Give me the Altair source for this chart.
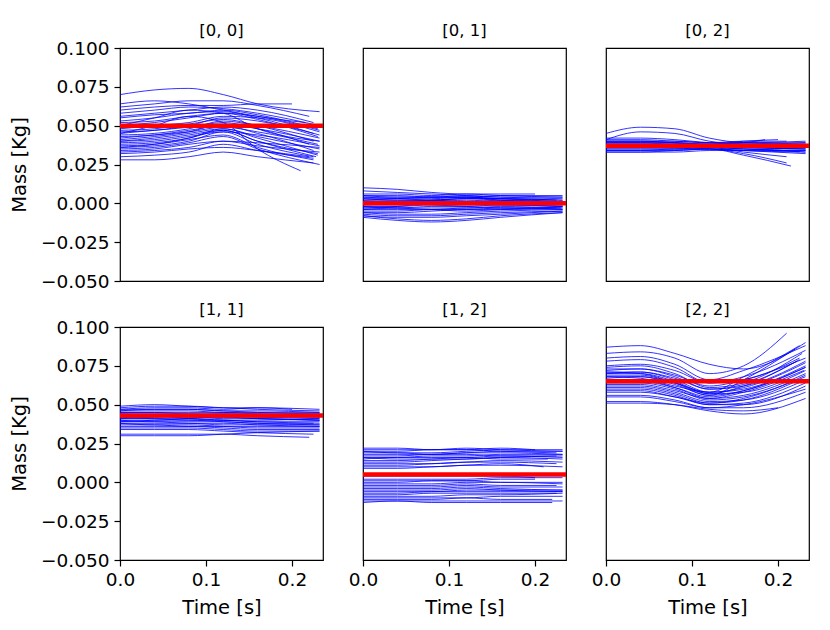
import altair as alt
import pandas as pd

T_KNOTS = [0.0, 0.04, 0.08, 0.12, 0.16]
PANEL_TITLES = ["[0, 0]", "[0, 1]", "[0, 2]", "[1, 1]", "[1, 2]", "[2, 2]"]
TRUE_VALUES = [0.050, 0.000, 0.037, 0.043, 0.005, 0.065]
X_TICKS = [0.0, 0.1, 0.2]
Y_TICKS = [-0.05, -0.025, 0.0, 0.025, 0.05, 0.075, 0.1]

P00_VALUES = [
    [0.070, 0.073, 0.074, 0.070, 0.064, 0.059],
    [0.062, 0.064, 0.066, 0.066, 0.063, 0.056],
    [0.060, 0.062, 0.063, 0.063, 0.064, 0.064],
    [0.058, 0.060, 0.062, 0.061, 0.058, 0.050],
    [0.056, 0.058, 0.060, 0.062, 0.060, 0.052],
    [0.055, 0.057, 0.058, 0.060, 0.057, 0.048],
    [0.053, 0.055, 0.058, 0.059, 0.055, 0.045],
    [0.052, 0.053, 0.056, 0.058, 0.056, 0.047],
    [0.050, 0.052, 0.055, 0.058, 0.054, 0.043],
    [0.048, 0.050, 0.052, 0.056, 0.055, 0.046],
    [0.047, 0.048, 0.051, 0.054, 0.050, 0.040],
    [0.046, 0.047, 0.050, 0.055, 0.053, 0.044],
    [0.045, 0.047, 0.049, 0.052, 0.048, 0.038],
    [0.044, 0.045, 0.048, 0.053, 0.050, 0.042],
    [0.043, 0.044, 0.047, 0.050, 0.045, 0.034],
    [0.042, 0.044, 0.046, 0.049, 0.046, 0.038],
    [0.041, 0.043, 0.046, 0.051, 0.048, 0.040],
    [0.040, 0.041, 0.044, 0.047, 0.040, 0.030],
    [0.040, 0.042, 0.045, 0.048, 0.043, 0.035],
    [0.039, 0.040, 0.043, 0.046, 0.044, 0.037],
    [0.038, 0.039, 0.042, 0.047, 0.040, 0.032],
    [0.037, 0.038, 0.041, 0.044, 0.036, 0.028],
    [0.036, 0.038, 0.042, 0.048, 0.042, 0.031],
    [0.036, 0.037, 0.040, 0.046, 0.038, 0.030],
    [0.035, 0.036, 0.039, 0.043, 0.035, 0.025],
    [0.034, 0.035, 0.038, 0.040, 0.039, 0.036],
    [0.033, 0.034, 0.036, 0.040, 0.037, 0.033],
    [0.032, 0.033, 0.035, 0.036, 0.034, 0.030],
    [0.030, 0.031, 0.033, 0.038, 0.034, 0.029],
    [0.028, 0.028, 0.030, 0.033, 0.030, 0.026],
    [0.045, 0.050, 0.056, 0.052, 0.035, 0.021],
    [0.050, 0.055, 0.060, 0.058, 0.048, 0.040],
    [0.064, 0.066, 0.064, 0.060, 0.056, 0.052],
]
P00_END = [0.232, 0.22, 0.2, 0.232, 0.225, 0.23, 0.225, 0.232, 0.23, 0.232,
           0.225, 0.232, 0.22, 0.232, 0.225, 0.23, 0.232, 0.228, 0.232, 0.232,
           0.23, 0.225, 0.23, 0.225, 0.232, 0.232, 0.232, 0.22, 0.225, 0.225,
           0.21, 0.232, 0.215]

P01_VALUES = [
    [0.010, 0.009, 0.007, 0.006, 0.006, 0.006],
    [0.006, 0.006, 0.005, 0.006, 0.005, 0.004],
    [0.005, 0.005, 0.004, 0.005, 0.004, 0.003],
    [0.004, 0.004, 0.004, 0.004, 0.003, 0.002],
    [0.003, 0.003, 0.003, 0.004, 0.003, 0.001],
    [0.003, 0.002, 0.002, 0.003, 0.003, 0.002],
    [0.002, 0.002, 0.002, 0.001, 0.002, 0.001],
    [0.001, 0.001, 0.001, 0.002, 0.001, 0.000],
    [0.000, 0.000, 0.001, 0.000, 0.000, -0.001],
    [-0.001, -0.001, 0.000, 0.000, -0.001, -0.001],
    [-0.002, -0.002, -0.001, -0.001, -0.001, -0.002],
    [-0.003, -0.003, -0.002, -0.002, -0.001, -0.002],
    [-0.004, -0.003, -0.003, -0.003, -0.002, -0.003],
    [-0.004, -0.004, -0.004, -0.003, -0.003, -0.002],
    [-0.005, -0.005, -0.004, -0.004, -0.003, -0.003],
    [-0.006, -0.006, -0.005, -0.004, -0.004, -0.003],
    [-0.006, -0.007, -0.007, -0.006, -0.005, -0.004],
    [-0.007, -0.008, -0.008, -0.007, -0.006, -0.005],
    [-0.008, -0.009, -0.009, -0.008, -0.007, -0.005],
    [-0.008, -0.010, -0.011, -0.010, -0.008, -0.006],
    [-0.009, -0.011, -0.012, -0.011, -0.009, -0.006],
    [0.002, 0.003, 0.004, 0.004, 0.002, 0.000],
    [0.000, 0.001, 0.002, 0.003, 0.003, 0.002],
    [-0.001, 0.000, 0.002, 0.003, 0.002, 0.001],
    [-0.003, -0.002, 0.000, 0.001, 0.001, 0.000],
    [0.004, 0.003, 0.002, 0.001, 0.000, -0.001],
    [0.001, 0.000, -0.001, -0.002, -0.003, -0.004],
    [-0.002, -0.003, -0.004, -0.005, -0.004, -0.003],
    [0.005, 0.004, 0.004, 0.004, 0.005, 0.005],
    [0.008, 0.007, 0.006, 0.005, 0.004, 0.004],
]
P01_END = [0.2, 0.232, 0.232, 0.225, 0.232, 0.232, 0.23, 0.232, 0.232, 0.225,
           0.232, 0.232, 0.23, 0.232, 0.232, 0.225, 0.232, 0.232, 0.232, 0.232,
           0.232, 0.232, 0.232, 0.22, 0.232, 0.232, 0.232, 0.232, 0.232, 0.232]

P02_VALUES = [
    [0.045, 0.049, 0.048, 0.042, 0.039, 0.038],
    [0.041, 0.046, 0.045, 0.040, 0.038, 0.037],
    [0.042, 0.042, 0.041, 0.039, 0.038, 0.039],
    [0.041, 0.041, 0.040, 0.039, 0.040, 0.040],
    [0.040, 0.040, 0.040, 0.039, 0.039, 0.040],
    [0.040, 0.040, 0.039, 0.038, 0.039, 0.039],
    [0.039, 0.039, 0.039, 0.038, 0.038, 0.038],
    [0.039, 0.039, 0.038, 0.038, 0.037, 0.038],
    [0.038, 0.038, 0.038, 0.037, 0.037, 0.036],
    [0.038, 0.038, 0.037, 0.037, 0.036, 0.035],
    [0.037, 0.037, 0.037, 0.037, 0.036, 0.035],
    [0.037, 0.037, 0.036, 0.036, 0.035, 0.034],
    [0.036, 0.036, 0.036, 0.036, 0.035, 0.033],
    [0.036, 0.036, 0.036, 0.035, 0.034, 0.033],
    [0.035, 0.035, 0.035, 0.035, 0.034, 0.032],
    [0.035, 0.035, 0.035, 0.036, 0.033, 0.030],
    [0.034, 0.034, 0.034, 0.035, 0.032, 0.026],
    [0.034, 0.034, 0.035, 0.035, 0.031, 0.024],
    [0.033, 0.033, 0.034, 0.035, 0.035, 0.033],
    [0.033, 0.033, 0.033, 0.034, 0.034, 0.034],
    [0.039, 0.039, 0.039, 0.038, 0.040, 0.041],
    [0.038, 0.038, 0.038, 0.038, 0.039, 0.041],
    [0.037, 0.037, 0.038, 0.037, 0.036, 0.035],
    [0.036, 0.036, 0.036, 0.037, 0.037, 0.036],
    [0.040, 0.040, 0.039, 0.037, 0.036, 0.036],
]
P02_END = [0.232, 0.232, 0.232, 0.21, 0.232, 0.232, 0.232, 0.232, 0.232, 0.232,
           0.232, 0.232, 0.232, 0.225, 0.232, 0.21, 0.21, 0.215, 0.232, 0.232,
           0.2, 0.185, 0.232, 0.232, 0.232]

P11_VALUES = [
    [0.049, 0.050, 0.049, 0.048, 0.048, 0.047],
    [0.048, 0.049, 0.049, 0.048, 0.047, 0.046],
    [0.047, 0.048, 0.048, 0.047, 0.048, 0.047],
    [0.047, 0.047, 0.047, 0.046, 0.046, 0.045],
    [0.046, 0.047, 0.047, 0.046, 0.045, 0.044],
    [0.046, 0.046, 0.046, 0.045, 0.045, 0.045],
    [0.045, 0.045, 0.045, 0.045, 0.044, 0.043],
    [0.045, 0.045, 0.044, 0.044, 0.044, 0.044],
    [0.044, 0.044, 0.044, 0.043, 0.042, 0.041],
    [0.043, 0.043, 0.043, 0.043, 0.042, 0.042],
    [0.043, 0.043, 0.042, 0.042, 0.041, 0.040],
    [0.042, 0.042, 0.042, 0.041, 0.041, 0.040],
    [0.042, 0.041, 0.041, 0.040, 0.039, 0.038],
    [0.041, 0.041, 0.040, 0.040, 0.039, 0.039],
    [0.040, 0.040, 0.040, 0.039, 0.038, 0.037],
    [0.040, 0.039, 0.039, 0.039, 0.038, 0.038],
    [0.039, 0.039, 0.038, 0.038, 0.037, 0.036],
    [0.038, 0.038, 0.038, 0.037, 0.037, 0.037],
    [0.038, 0.037, 0.037, 0.036, 0.035, 0.035],
    [0.037, 0.037, 0.036, 0.036, 0.036, 0.036],
    [0.036, 0.036, 0.036, 0.035, 0.034, 0.034],
    [0.035, 0.035, 0.035, 0.034, 0.033, 0.033],
    [0.034, 0.034, 0.034, 0.033, 0.032, 0.031],
    [0.031, 0.031, 0.031, 0.031, 0.030, 0.029],
    [0.030, 0.030, 0.030, 0.031, 0.032, 0.033],
    [0.044, 0.043, 0.041, 0.040, 0.040, 0.041],
    [0.041, 0.042, 0.043, 0.044, 0.043, 0.042],
    [0.039, 0.040, 0.041, 0.042, 0.041, 0.040],
]
P11_END = [0.232, 0.232, 0.2, 0.232, 0.232, 0.232, 0.232, 0.232, 0.232, 0.232,
           0.232, 0.232, 0.232, 0.232, 0.232, 0.225, 0.232, 0.232, 0.232, 0.232,
           0.232, 0.232, 0.225, 0.22, 0.232, 0.232, 0.232, 0.232]

P12_VALUES = [
    [0.022, 0.022, 0.021, 0.021, 0.022, 0.021],
    [0.021, 0.021, 0.021, 0.022, 0.021, 0.020],
    [0.020, 0.020, 0.021, 0.021, 0.020, 0.019],
    [0.020, 0.019, 0.019, 0.020, 0.021, 0.021],
    [0.019, 0.019, 0.018, 0.019, 0.020, 0.020],
    [0.018, 0.018, 0.018, 0.019, 0.019, 0.018],
    [0.017, 0.017, 0.018, 0.018, 0.017, 0.017],
    [0.016, 0.016, 0.017, 0.017, 0.018, 0.018],
    [0.015, 0.016, 0.016, 0.016, 0.017, 0.016],
    [0.014, 0.014, 0.015, 0.016, 0.015, 0.015],
    [0.013, 0.013, 0.014, 0.015, 0.016, 0.015],
    [0.012, 0.012, 0.012, 0.013, 0.014, 0.013],
    [0.011, 0.011, 0.012, 0.013, 0.013, 0.012],
    [0.010, 0.010, 0.010, 0.011, 0.011, 0.010],
    [0.009, 0.009, 0.010, 0.011, 0.012, 0.010],
    [0.016, 0.015, 0.015, 0.015, 0.016, 0.017],
    [0.002, 0.002, 0.002, 0.002, 0.003, 0.003],
    [0.001, 0.001, 0.001, 0.001, 0.002, 0.002],
    [0.000, 0.000, 0.001, 0.001, 0.000, 0.000],
    [-0.001, -0.001, -0.001, 0.000, 0.000, -0.001],
    [-0.002, -0.002, -0.002, -0.001, -0.002, -0.002],
    [-0.003, -0.003, -0.003, -0.002, -0.003, -0.003],
    [-0.004, -0.004, -0.004, -0.003, -0.004, -0.005],
    [-0.005, -0.005, -0.005, -0.004, -0.005, -0.006],
    [-0.006, -0.006, -0.006, -0.005, -0.005, -0.005],
    [-0.007, -0.007, -0.006, -0.006, -0.006, -0.006],
    [-0.008, -0.008, -0.007, -0.007, -0.007, -0.007],
    [-0.009, -0.009, -0.009, -0.008, -0.008, -0.007],
    [-0.010, -0.010, -0.010, -0.010, -0.009, -0.009],
    [-0.011, -0.011, -0.011, -0.010, -0.011, -0.011],
    [-0.012, -0.012, -0.013, -0.013, -0.013, -0.013],
    [-0.013, -0.012, -0.012, -0.012, -0.012, -0.012],
    [0.004, 0.004, 0.004, 0.004, 0.004, 0.003],
]
P12_END = [0.2, 0.232, 0.225, 0.232, 0.232, 0.232, 0.225, 0.232, 0.232, 0.215,
           0.232, 0.232, 0.225, 0.232, 0.21, 0.232, 0.232, 0.2, 0.232, 0.232,
           0.225, 0.232, 0.232, 0.232, 0.232, 0.232, 0.225, 0.232, 0.232, 0.22,
           0.22, 0.232, 0.2]

P22_VALUES = [
    [0.087, 0.088, 0.083, 0.076, 0.073, 0.090],
    [0.083, 0.084, 0.080, 0.070, 0.075, 0.096],
    [0.080, 0.081, 0.076, 0.066, 0.072, 0.088],
    [0.078, 0.079, 0.074, 0.064, 0.066, 0.080],
    [0.075, 0.076, 0.072, 0.064, 0.068, 0.085],
    [0.074, 0.075, 0.070, 0.061, 0.064, 0.083],
    [0.073, 0.073, 0.068, 0.060, 0.062, 0.078],
    [0.072, 0.073, 0.069, 0.062, 0.066, 0.080],
    [0.071, 0.071, 0.066, 0.058, 0.060, 0.075],
    [0.070, 0.071, 0.067, 0.060, 0.063, 0.079],
    [0.070, 0.070, 0.065, 0.057, 0.058, 0.072],
    [0.069, 0.069, 0.064, 0.058, 0.061, 0.077],
    [0.068, 0.068, 0.063, 0.056, 0.059, 0.074],
    [0.067, 0.068, 0.064, 0.057, 0.062, 0.078],
    [0.066, 0.066, 0.061, 0.054, 0.056, 0.070],
    [0.065, 0.065, 0.061, 0.055, 0.059, 0.074],
    [0.064, 0.064, 0.060, 0.053, 0.055, 0.068],
    [0.063, 0.063, 0.059, 0.054, 0.058, 0.072],
    [0.062, 0.062, 0.058, 0.052, 0.053, 0.066],
    [0.061, 0.061, 0.057, 0.051, 0.054, 0.069],
    [0.060, 0.060, 0.056, 0.050, 0.051, 0.064],
    [0.059, 0.059, 0.055, 0.051, 0.053, 0.066],
    [0.058, 0.058, 0.055, 0.050, 0.050, 0.062],
    [0.056, 0.056, 0.053, 0.048, 0.048, 0.058],
    [0.055, 0.055, 0.052, 0.048, 0.050, 0.060],
    [0.052, 0.052, 0.050, 0.046, 0.044, 0.054],
    [0.051, 0.051, 0.050, 0.047, 0.046, 0.048],
    [0.071, 0.070, 0.064, 0.056, 0.066, 0.086],
    [0.068, 0.067, 0.062, 0.058, 0.068, 0.088],
]
P22_END = [0.232, 0.21, 0.232, 0.225, 0.232, 0.228, 0.232, 0.232, 0.232, 0.225,
           0.232, 0.232, 0.232, 0.222, 0.232, 0.232, 0.232, 0.23, 0.232, 0.232,
           0.232, 0.225, 0.232, 0.232, 0.232, 0.232, 0.2, 0.22, 0.225]

ALL_VALUES = [P00_VALUES, P01_VALUES, P02_VALUES, P11_VALUES, P12_VALUES, P22_VALUES]
ALL_ENDS = [P00_END, P01_END, P02_END, P11_END, P12_END, P22_END]

rows = []
for p, (vals, ends) in enumerate(zip(ALL_VALUES, ALL_ENDS)):
    for i, (vs, te) in enumerate(zip(vals, ends)):
        for t, v in zip(T_KNOTS + [te], vs):
            rows.append({"panel": p, "line": i, "t": t, "v": v})
df = pd.DataFrame(rows)

FONT = "DejaVu Sans"
PW, PH = 203, 233
x_scale = alt.Scale(domain=[0, 0.236], nice=False, zero=False)
y_scale = alt.Scale(domain=[-0.05, 0.1], nice=False, zero=False)

AXIS_STYLE = dict(grid=False, domain=False, tickColor="black", tickSize=6,
                  tickWidth=1.2, labelFontSize=18.5, titleFontSize=19.5,
                  labelColor="black", titleColor="black", labelFont=FONT,
                  titleFont=FONT, titleFontWeight="normal", labelFlush=False)


def make_panel(p, row, col):
    d = df[df["panel"] == p]
    if row == 1:
        xaxis = alt.Axis(values=X_TICKS, format=".1f", title="Time [s]",
                         labelPadding=4, titlePadding=10, **AXIS_STYLE)
    else:
        xaxis = None
    if col == 0:
        yaxis = alt.Axis(values=Y_TICKS, format=".3f", title="Mass [Kg]",
                         labelPadding=5, titlePadding=11, **AXIS_STYLE)
    else:
        yaxis = None
    lines = alt.Chart(d).mark_line(
        color="#0000ff", strokeWidth=0.8, interpolate="monotone", clip=True
    ).encode(
        x=alt.X("t:Q", scale=x_scale, axis=xaxis),
        y=alt.Y("v:Q", scale=y_scale, axis=yaxis),
        detail="line:N",
    )
    rule = alt.Chart(pd.DataFrame({"v": [TRUE_VALUES[p]]})).mark_rule(
        color="#ff0000", strokeWidth=4.5
    ).encode(y=alt.Y("v:Q", scale=y_scale, axis=yaxis))
    title = alt.Chart(pd.DataFrame({"label": [PANEL_TITLES[p]]})).mark_text(
        font=FONT, fontSize=16.5, color="black", baseline="middle", align="center"
    ).encode(text="label:N", x=alt.value(PW / 2), y=alt.value(-17))
    return alt.layer(lines, rule, title).properties(width=PW, height=PH)


row1 = alt.hconcat(make_panel(0, 0, 0), make_panel(1, 0, 1), make_panel(2, 0, 2),
                   spacing=40, bounds="flush")
row2 = alt.hconcat(make_panel(3, 1, 0), make_panel(4, 1, 1), make_panel(5, 1, 2),
                   spacing=40, bounds="flush")

chart = alt.vconcat(row1, row2, spacing=9).properties(
    padding={"left": 0, "top": 14, "right": 5, "bottom": 5}
).configure_view(stroke="black", strokeWidth=1.2)

chart.save("out.html", embed_options={"renderer": "svg", "actions": False})
